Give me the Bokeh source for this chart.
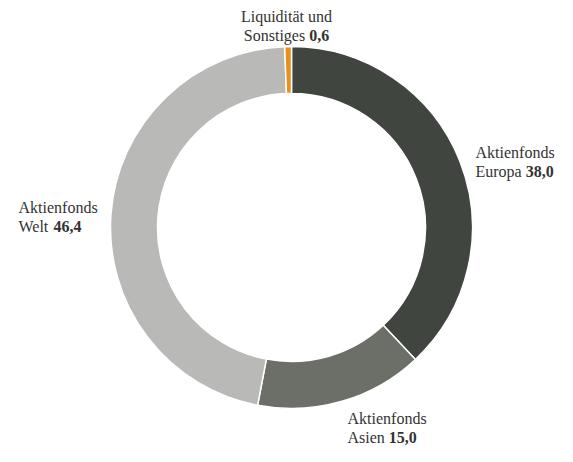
import math
from bokeh.plotting import figure
from bokeh.models import Range1d, ColumnDataSource
from bokeh.core.properties import value
from bokeh.embed import file_html
from bokeh.resources import INLINE

# ---- data ----
categories = ["Aktienfonds Europa", "Aktienfonds Asien", "Aktienfonds Welt", "Liquidität und Sonstiges"]
values = [38.0, 15.0, 46.4, 0.6]
value_labels = ["38,0", "15,0", "46,4", "0,6"]
label_line1 = ["Aktienfonds", "Aktienfonds", "Aktienfonds", "Liquidität und"]
label_line2 = ["Europa", "Asien", "Welt", "Sonstiges"]
colors = ["#40453f", "#6c6f68", "#b9b9b8", "#e8901e"]

# ---- layout (pixel coordinates from top-left) ----
W, H = 557, 446
cx, cy = 291, 227
r_out, r_in = 181, 134
FS = 16
label_pos = [(475, 152, "left"), (347, 418, "left"), (18, 207, "left"), (286, 16, "center")]
LINE_GAP = 19

# Times-compatible advance widths (per 1000 em)
reg_w = {' ': 250, 'A': 722, 'E': 611, 'L': 611, 'S': 556, 'W': 944, 'a': 444, 'd': 500,
         'e': 444, 'f': 333, 'g': 500, 'i': 278, 'k': 500, 'l': 278, 'n': 500, 'o': 500,
         'p': 500, 'q': 500, 'r': 333, 's': 389, 't': 278, 'u': 500, 'ä': 444}
bold_w = {c: 500 for c in "0123456789"}
bold_w[','] = 250


def tw(s, table):
    return sum(table.get(c, 500) for c in s) * FS / 1000.0


p = figure(width=W, height=H, output_backend="svg", toolbar_location=None,
           x_range=Range1d(0, W), y_range=Range1d(-H, 0),
           min_border=0, outline_line_color=None)
p.axis.visible = False
p.grid.visible = False
p.background_fill_color = "white"
p.border_fill_color = "white"

total = sum(values)
starts, ends = [], []
acc = 0.0
for v in values:
    starts.append(math.pi / 2 - 2 * math.pi * acc / total)
    acc += v
    ends.append(math.pi / 2 - 2 * math.pi * acc / total)

src = ColumnDataSource(dict(x=[cx] * len(values), y=[-cy] * len(values),
                            start=starts, end=ends, color=colors, cat=categories))
p.annular_wedge(x="x", y="y", inner_radius=r_in, outer_radius=r_out,
                start_angle="start", end_angle="end", direction="clock",
                fill_color="color", line_color="white", line_width=1.5, source=src)

font = value("Liberation Serif")
txt_color = "#333333"
for i in range(len(values)):
    x0, yb, align = label_pos[i]
    l1 = label_line1[i]
    l2 = label_line2[i] + " "
    num = value_labels[i]
    w2 = tw(l2, reg_w)
    wn = tw(num, bold_w)
    if align == "center":
        p.text(x=[x0], y=[-yb], text=[l1], text_font=font, text_font_size=f"{FS}px",
               text_color=txt_color, text_align="center", text_baseline="alphabetic")
        xl = x0 - (w2 + wn) / 2
    else:
        p.text(x=[x0], y=[-yb], text=[l1], text_font=font, text_font_size=f"{FS}px",
               text_color=txt_color, text_align="left", text_baseline="alphabetic")
        xl = x0
    y2 = -(yb + LINE_GAP)
    p.text(x=[xl], y=[y2], text=[label_line2[i]], text_font=font, text_font_size=f"{FS}px",
           text_color=txt_color, text_align="left", text_baseline="alphabetic")
    p.text(x=[xl + w2], y=[y2], text=[num], text_font=font, text_font_size=f"{FS}px",
           text_font_style="bold", text_color=txt_color, text_align="left",
           text_baseline="alphabetic")

open("out.html", "w").write(file_html(p, INLINE))
